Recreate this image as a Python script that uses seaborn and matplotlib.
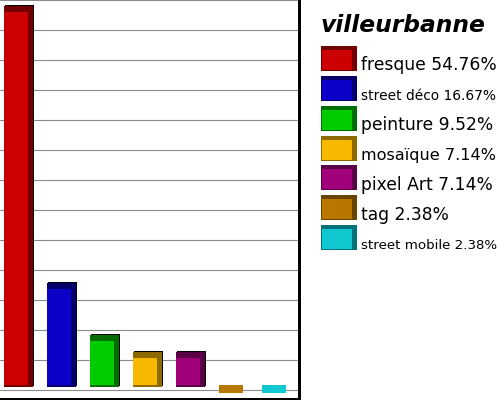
import numpy as np
import pandas as pd
import seaborn as sns
import matplotlib
matplotlib.use("Agg")
import matplotlib.pyplot as plt
import matplotlib.patheffects as pe
from matplotlib.patches import Patch, Rectangle
from matplotlib.legend_handler import HandlerBase

categories = ["fresque", "street déco", "peinture", "mosaïque", "pixel Art", "tag", "street mobile"]
counts = [23, 7, 4, 3, 3, 1, 1]
percents = [54.76, 16.67, 9.52, 7.14, 7.14, 2.38, 2.38]
front_colors = ["#cc0000", "#0a00c8", "#00cc00", "#f8b800", "#a0007a", "#b87800", "#10c8d0"]
dark_colors = ["#720000", "#05006a", "#006e00", "#8c6a00", "#5a0044", "#6a4500", "#087078"]
city = "villeurbanne"

sns.set_style("white")
plt.rcParams["font.family"] = ["DejaVu Sans"]
plt.rcParams["text.color"] = "black"

W, H = 500, 400
fig = plt.figure(figsize=(W / 100, H / 100), dpi=100)
ax = fig.add_axes([0, 1.5 / H, 298.5 / W, 1 - 1.5 / H])
px = 72 / fig.dpi  # one pixel in points

base = min(counts)   # value axis starts at the smallest count
unit = 17.3          # pixels per count
slot = 43            # pixels per category
top_in, bot_in = 6 / unit, 2 / unit

df = pd.DataFrame({"type": categories, "count": counts})
df["back"] = df["count"] - base
df["front"] = df["count"] - top_in - (base + bot_in)

# dark block behind, bright face in front -> fake 3d bars
sns.barplot(data=df, x="type", y="back", hue="type", palette=dark_colors,
            width=28.5 / slot, bottom=base, saturation=1, linewidth=0,
            legend=False, ax=ax, zorder=2)
sns.barplot(data=df, x="type", y="front", hue="type", palette=front_colors,
            width=23.5 / slot, bottom=base + bot_in, saturation=1, linewidth=0,
            legend=False, ax=ax, zorder=3)

n = len(categories)
for bar in ax.patches[:n]:
    bar.set_path_effects([pe.SimplePatchShadow(offset=(px, px), shadow_rgbFace="black", alpha=1),
                          pe.Normal()])
for bar in ax.patches[n:]:
    bar.set_path_effects([pe.Stroke(offset=(-2.5 * px, 0), linewidth=0)])

ax.set_xlim(-18.25 / slot, (298.5 - 18.25) / slot)
ytop = base + 386.7 / unit
ax.set_ylim(base - (398.5 - 386.7) / unit, ytop)
ax.set_yticks([ytop - k * 30 / unit for k in range(14)])
ax.grid(axis="y", color="#8c8c8c", lw=0.8)
ax.set_axisbelow(True)
ax.tick_params(length=0, labelleft=False, labelbottom=False)
ax.set_xlabel("")
ax.set_ylabel("")
for s in ["top", "left"]:
    ax.spines[s].set_visible(False)
for s in ["right", "bottom"]:
    ax.spines[s].set_color("black")
    ax.spines[s].set_linewidth(3 * px)


class BlockHandler(HandlerBase):
    # legend swatch drawn like the bars: dark block with a bright face
    def create_artists(self, legend, orig_handle, xdescent, ydescent, width, height, fontsize, trans):
        h = 25 * px
        y0 = -0.7 * px
        back = Rectangle((-xdescent, y0), width, h, facecolor=orig_handle.get_edgecolor(),
                         lw=0, transform=trans)
        front = Rectangle((-xdescent + px, y0 + px), width - 6 * px, h - 5 * px,
                          facecolor=orig_handle.get_facecolor(), lw=0, transform=trans)
        return [back, front]


handles = [Patch(facecolor=f, edgecolor=d) for f, d in zip(front_colors, dark_colors)]
labels = [f"{c} {p:.2f}%" for c, p in zip(categories, percents)]

fig.text(321 / W, 1 - 32 / H, city, fontsize=16.8, fontweight="bold", fontstyle="italic",
         va="baseline", ha="left", color="black")

fs = 12.3
leg = fig.legend(handles, labels, handler_map={Patch: BlockHandler()},
                 loc="upper left", bbox_to_anchor=(321 / W, 1 - 54.5 / H),
                 frameon=False, fontsize=fs,
                 handlelength=36 * px / fs, handleheight=25 * px / fs,
                 handletextpad=4 * px / fs, labelspacing=0.55,
                 borderpad=0, borderaxespad=0)

# shrink long labels so they fit the legend column
fig.canvas.draw()
for t in leg.get_texts():
    t.set_color("black")
    w = t.get_window_extent().width
    if w > 136:
        t.set_fontsize(fs * 136 / w)

fig.savefig("out.png", dpi=100)
